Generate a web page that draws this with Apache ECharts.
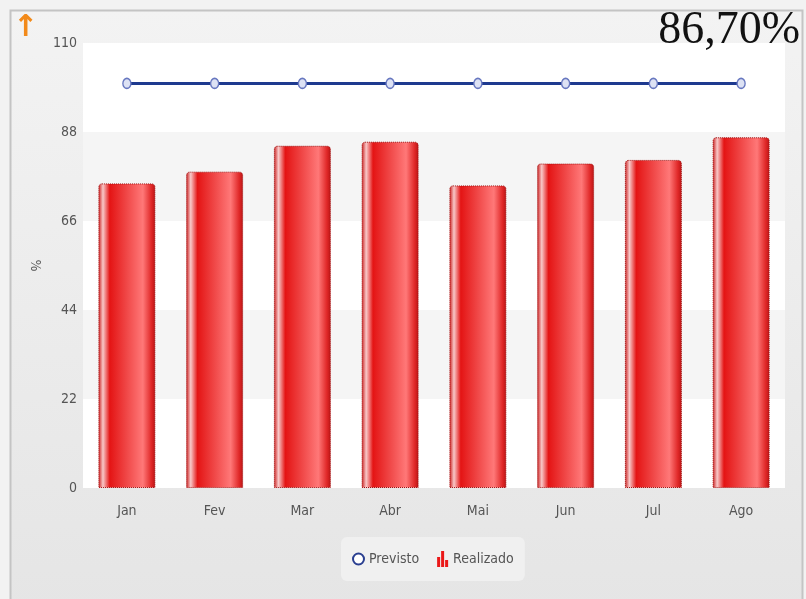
<!DOCTYPE html>
<html>
<head>
<meta charset="utf-8">
<script src="https://cdn.jsdelivr.net/npm/echarts@6/dist/echarts.min.js"></script>
<style>
  html, body { margin: 0; padding: 0; background: #e6e6e6; }
  #chart { width: 806px; height: 599px; }
</style>
</head>
<body>
<div id="chart"></div>
<script>
// dados do grafico
const meses = ['Jan', 'Fev', 'Mar', 'Abr', 'Mai', 'Jun', 'Jul', 'Ago']
const previsto = [100, 100, 100, 100, 100, 100, 100, 100]
const realizado = [75.3, 78.2, 84.6, 85.6, 74.8, 80.2, 81.1, 86.7]
const tituloValor = '86,70%'

const fonte = 'DejaVu Sans Condensed, DejaVu Sans'
const chart = echarts.init(document.getElementById('chart'))

const barGradient = new echarts.graphic.LinearGradient(0, 0, 1, 0, [
  { offset: 0, color: '#c81818' },
  { offset: 0.08, color: '#f8c8c8' },
  { offset: 0.2, color: '#e41414' },
  { offset: 0.5, color: '#f04848' },
  { offset: 0.78, color: '#ff7878' },
  { offset: 0.93, color: '#e02828' },
  { offset: 1, color: '#b81414' }
])

const option = {
  backgroundColor: '#e6e6e6',
  animation: false,
  title: {
    text: tituloValor,
    right: 1,
    top: 3,
    textStyle: {
      fontFamily: 'Liberation Serif',
      fontWeight: 'normal',
      fontSize: 46,
      color: '#111'
    }
  },
  graphic: [
    {
      type: 'rect',
      z: -10,
      shape: { x: 0, y: 0, width: 806, height: 599 },
      style: { fill: '#f2f2f2' }
    },
    {
      type: 'rect',
      z: -9,
      shape: { x: 10.5, y: 10.5, width: 792, height: 600 },
      style: {
        fill: new echarts.graphic.LinearGradient(0, 0, 0, 1, [
          { offset: 0, color: '#f3f3f3' },
          { offset: 0.5, color: '#ececec' },
          { offset: 1, color: '#e5e5e5' }
        ]),
        stroke: '#c4c4c4',
        lineWidth: 2
      }
    },
    {
      type: 'text',
      left: 13,
      top: 13,
      style: {
        text: '↑',
        fontFamily: 'DejaVu Sans',
        fontWeight: 'bold',
        fontSize: 30,
        fill: '#f28a1a'
      }
    }
  ],
  legend: {
    left: 341,
    top: 537,
    padding: [14, 11],
    backgroundColor: '#f0f0f0',
    borderRadius: 6,
    itemGap: 18,
    itemWidth: 11,
    itemHeight: 20,
    textStyle: {
      fontFamily: fonte,
      fontSize: 14,
      color: '#555'
    },
    data: [
      {
        name: 'Previsto',
        icon: 'emptyCircle',
        itemStyle: { color: '#2a3f90', borderColor: '#2a3f90', borderWidth: 2 }
      },
      {
        name: 'Realizado',
        icon: 'path://M0,6h3v10h-3z M4,0h3v16h-3z M8,9h3v7h-3z',
        itemStyle: { color: '#ea1818', borderWidth: 0 }
      }
    ]
  },
  grid: {
    left: 83,
    right: 21,
    top: 43,
    bottom: 111,
    show: true,
    backgroundColor: '#fff',
    borderWidth: 0
  },
  xAxis: {
    type: 'category',
    data: meses,
    axisLine: { show: false },
    axisTick: { show: false },
    axisLabel: {
      margin: 16,
      fontFamily: fonte,
      fontSize: 14,
      color: '#555'
    }
  },
  yAxis: {
    type: 'value',
    min: 0,
    max: 110,
    interval: 22,
    name: '%',
    nameLocation: 'middle',
    nameGap: 41,
    nameRotate: -90,
    nameTextStyle: {
      fontFamily: fonte,
      fontSize: 14,
      color: '#555'
    },
    axisLine: { show: false },
    axisTick: { show: false },
    axisLabel: {
      margin: 6,
      fontFamily: fonte,
      fontSize: 14,
      color: '#555'
    },
    splitLine: { show: false },
    splitArea: {
      show: true,
      areaStyle: { color: ['#ffffff', '#f5f5f5'] }
    }
  },
  series: [
    {
      name: 'Realizado',
      type: 'bar',
      barWidth: 57,
      data: realizado,
      itemStyle: {
        color: barGradient,
        borderColor: '#a01010',
        borderWidth: 1,
        borderType: 'dotted',
        borderRadius: [3, 3, 0, 0]
      }
    },
    {
      name: 'Previsto',
      type: 'line',
      data: previsto,
      symbol: 'circle',
      symbolSize: [8, 10],
      lineStyle: { color: '#1e3a8f', width: 3 },
      itemStyle: {
        color: '#dde2f4',
        borderColor: '#6878c0',
        borderWidth: 1.5
      },
      z: 3
    }
  ]
}

chart.setOption(option)
</script>
</body>
</html>
